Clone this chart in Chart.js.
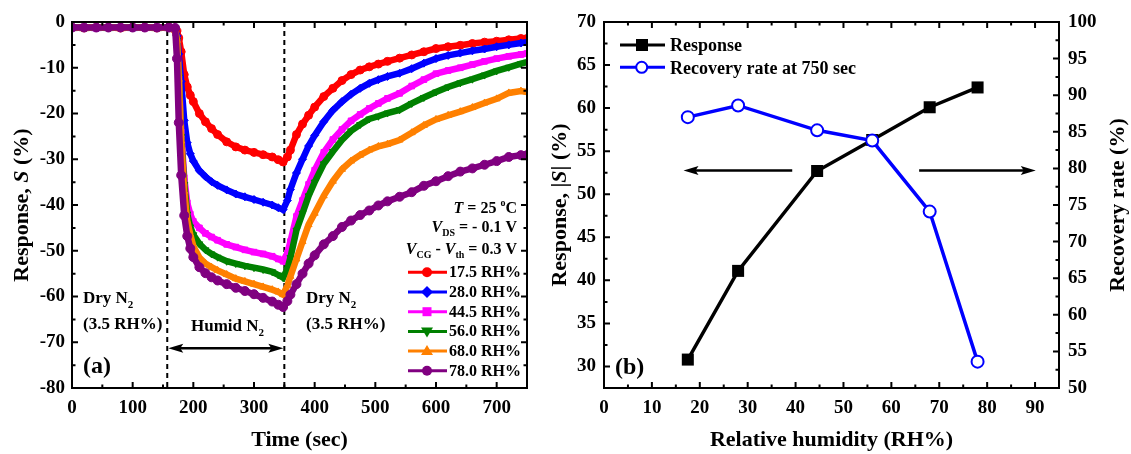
<!DOCTYPE html>
<html>
<head>
<meta charset="utf-8">
<script src="https://cdn.jsdelivr.net/npm/chart.js@4.4.0/dist/chart.umd.min.js"></script>
<style>
  html, body { margin: 0; padding: 0; background: #fff; }
  #wrap { position: relative; width: 1131px; height: 454px; overflow: hidden; }
  #ca { position: absolute; left: 0; top: 0; }
  #cb { position: absolute; left: 535px; top: 0; }
</style>
</head>
<body>
<div id="wrap">
  <canvas id="ca" width="560" height="454"></canvas>
  <canvas id="cb" width="596" height="454"></canvas>
</div>
<script>
// ---- panel (a): response vs time ----
const timeSec = [0, 20, 40, 60, 80, 100, 120, 140, 160, 170,
  173, 176, 180, 185, 190, 195, 200, 210, 220, 230, 240,
  255, 270, 285, 300, 315, 330, 340, 348, 355, 360,
  370, 380, 390, 400, 415, 430, 445, 460, 475, 490, 505, 520,
  540, 560, 580, 600, 620, 640, 660, 680, 700, 720, 740, 750];

const rh175 = [-1.2, -1.3, -1.2, -1.2, -1.3, -1.2, -1.2, -1.3, -1.2, -1.4,
  -2.0, -3.5, -6.5, -11.5, -14.2, -16.0, -17.4, -20.0, -21.8, -23.3, -24.6,
  -26.2, -27.3, -28.0, -28.5, -29.0, -29.5, -30.1, -30.6, -29.5, -28.0,
  -24.6, -22.3, -20.4, -18.6, -16.3, -14.5, -12.8, -11.5, -10.5, -9.8, -9.2, -8.6,
  -7.9, -7.2, -6.5, -5.8, -5.4, -5.1, -4.7, -4.4, -4.2, -3.9, -3.6, -3.6];

const rh280 = [-1.3, -1.2, -1.3, -1.2, -1.2, -1.3, -1.2, -1.2, -1.3, -1.6,
  -3.0, -7.0, -13.0, -21.5, -26.4, -28.8, -30.4, -32.5, -33.8, -34.9, -35.7,
  -36.7, -37.6, -38.2, -38.8, -39.4, -40.0, -40.6, -41.0, -39.0, -36.6,
  -33.0, -30.0, -27.1, -24.8, -21.8, -19.3, -17.4, -15.8, -14.5, -13.4, -12.6, -11.9,
  -11.2, -10.2, -9.0, -8.0, -7.3, -6.8, -6.3, -5.9, -5.4, -5.0, -4.6, -4.4];

const rh445 = [-1.2, -1.2, -1.3, -1.2, -1.2, -1.2, -1.3, -1.2, -1.2, -1.8,
  -4.0, -11.0, -24.0, -34.0, -39.5, -42.0, -43.6, -45.0, -46.2, -47.0, -47.7,
  -48.6, -49.2, -49.8, -50.3, -50.7, -51.2, -51.8, -52.3, -50.5, -48.0,
  -42.5, -39.0, -35.5, -32.4, -28.5, -25.7, -23.5, -21.6, -20.2, -18.9, -17.8, -16.7,
  -15.6, -14.0, -12.6, -11.3, -10.6, -10.0, -9.3, -8.6, -8.0, -7.5, -7.1, -6.9];

const rh560 = [-1.2, -1.3, -1.2, -1.3, -1.2, -1.2, -1.2, -1.3, -1.2, -1.8,
  -4.0, -12.0, -25.0, -35.5, -42.0, -44.8, -46.5, -48.5, -49.8, -50.7, -51.4,
  -52.3, -52.8, -53.3, -53.7, -54.1, -54.6, -55.3, -55.9, -54.0, -51.5,
  -45.5, -41.8, -38.0, -35.0, -31.0, -28.3, -25.8, -23.8, -22.4, -21.2, -20.6, -19.9,
  -19.2, -17.8, -16.5, -15.3, -14.2, -13.3, -12.5, -11.6, -10.7, -9.9, -9.1, -8.8];

const rh680 = [-1.3, -1.2, -1.2, -1.2, -1.3, -1.2, -1.2, -1.2, -1.3, -1.8,
  -4.0, -12.5, -26.0, -37.0, -43.5, -46.5, -49.0, -51.5, -52.8, -53.6, -54.3,
  -55.2, -56.1, -56.7, -57.3, -57.9, -58.5, -59.0, -59.6, -57.6, -55.6,
  -51.8, -48.0, -44.3, -41.8, -38.0, -34.8, -32.2, -30.4, -29.1, -28.0, -27.2, -26.7,
  -25.8, -24.2, -22.6, -21.3, -20.4, -19.6, -18.7, -17.7, -16.8, -15.5, -15.1, -15.3];

const rh780 = [-1.2, -1.2, -1.2, -1.2, -1.2, -1.2, -1.2, -1.2, -1.2, -1.3,
  -8.0, -22.0, -33.5, -42.3, -46.8, -49.5, -51.4, -53.6, -54.9, -55.8, -56.5,
  -57.3, -58.1, -58.8, -59.5, -60.3, -61.1, -61.8, -62.3, -61.0, -59.6,
  -57.3, -55.0, -52.8, -51.0, -48.6, -46.8, -44.8, -43.4, -42.2, -41.2, -40.1, -39.2,
  -38.2, -37.2, -35.8, -34.8, -33.7, -32.7, -32.0, -31.2, -30.4, -29.5, -29.1, -29.1];

const rhLabels = ['17.5 RH%', '28.0 RH%', '44.5 RH%', '56.0 RH%', '68.0 RH%', '78.0 RH%'];
const timeTicks = [0, 100, 200, 300, 400, 500, 600, 700];
const respTicks = [0, -10, -20, -30, -40, -50, -60, -70, -80];

// ---- panel (b): response and recovery vs humidity ----
const humidity = [17.5, 28.0, 44.5, 56.0, 68.0, 78.0];
const responseAbs = [30.8, 41.1, 52.7, 56.3, 60.1, 62.4];
const recoveryRate = [87.0, 88.6, 85.2, 83.8, 74.1, 53.6];
const humTicks = [0, 10, 20, 30, 40, 50, 60, 70, 80, 90];
const absTicks = [30, 35, 40, 45, 50, 55, 60, 65, 70];
const recTicks = [50, 55, 60, 65, 70, 75, 80, 85, 90, 95, 100];

const SERIF = "'Liberation Serif', 'Times New Roman', serif";
const tickFont = { family: SERIF, size: 19, weight: 'bold' };
const colors = ['#ff0000', '#0000ff', '#ff00ff', '#008000', '#ff8000', '#800080'];
const styles = ['circle', 'rectRot', 'rect', 'triangle', 'triangle', 'circle'];
const rots = [0, 0, 0, 180, 0, 0];

const mids = arr => arr.slice(1).map((v, i) => (v + arr[i]) / 2);

function rich(ctx, x, y, parts, size, align) {
  const font = (st, s) => (st === 'i' ? 'italic ' : '') + 'bold ' + s + 'px ' + SERIF;
  const segs = parts.map(([t, st]) => {
    const s = (st === 'sub' || st === 'sup') ? Math.round(size * 0.62) : size;
    ctx.font = font(st, s);
    return { t, st, s, w: ctx.measureText(t).width };
  });
  const total = segs.reduce((acc, g) => acc + g.w, 0);
  let cx = align === 'right' ? x - total : align === 'center' ? x - total / 2 : x;
  ctx.textAlign = 'left';
  ctx.textBaseline = 'alphabetic';
  segs.forEach(g => {
    ctx.font = font(g.st, g.s);
    const dy = g.st === 'sub' ? size * 0.28 : g.st === 'sup' ? -size * 0.42 : 0;
    ctx.fillText(g.t, cx, y + dy);
    cx += g.w;
  });
}

function vtitle(ctx, x, y, parts, size) {
  ctx.save();
  ctx.translate(x, y);
  ctx.rotate(-Math.PI / 2);
  rich(ctx, 0, 0, parts, size, 'center');
  ctx.restore();
}

function ticksOn(ctx, scale, a, side, vals, len) {
  ctx.beginPath();
  vals.forEach(v => {
    const p = scale.getPixelForValue(v);
    if (side === 'bottom') { ctx.moveTo(p, a.bottom); ctx.lineTo(p, a.bottom - len); }
    if (side === 'top') { ctx.moveTo(p, a.top); ctx.lineTo(p, a.top + len); }
    if (side === 'left') { ctx.moveTo(a.left, p); ctx.lineTo(a.left + len, p); }
    if (side === 'right') { ctx.moveTo(a.right, p); ctx.lineTo(a.right - len, p); }
  });
  ctx.stroke();
}

function head(ctx, x, y, dir, len, half) {
  ctx.beginPath();
  ctx.moveTo(x, y);
  ctx.lineTo(x - dir * len, y - half);
  ctx.lineTo(x - dir * len * 0.8, y);
  ctx.lineTo(x - dir * len, y + half);
  ctx.closePath();
  ctx.fill();
}

function marker(ctx, i, x, y) {
  ctx.beginPath();
  const s = styles[i];
  if (s === 'circle') ctx.arc(x, y, 5, 0, Math.PI * 2);
  else if (s === 'rect') ctx.rect(x - 4.5, y - 4.5, 9, 9);
  else if (s === 'rectRot') { ctx.moveTo(x, y - 6); ctx.lineTo(x + 6, y); ctx.lineTo(x, y + 6); ctx.lineTo(x - 6, y); ctx.closePath(); }
  else if (rots[i] === 180) { ctx.moveTo(x, y + 6); ctx.lineTo(x + 6, y - 4); ctx.lineTo(x - 6, y - 4); ctx.closePath(); }
  else { ctx.moveTo(x, y - 6); ctx.lineTo(x + 6, y + 4); ctx.lineTo(x - 6, y + 4); ctx.closePath(); }
  ctx.fillStyle = colors[i];
  ctx.fill();
}

function scaleBase(min, max, list, padding) {
  return {
    type: 'linear', min, max,
    afterBuildTicks: s => { s.ticks = list.map(v => ({ value: v })); },
    grid: { display: false, drawTicks: false },
    border: { display: false },
    ticks: { color: '#000', font: tickFont, padding, autoSkip: false, maxRotation: 0, callback: v => String(v) }
  };
}

// ---------- chart (a) ----------
const seriesA = [rh175, rh280, rh445, rh560, rh680, rh780];

const annotA = {
  id: 'annotA',
  beforeDatasetsDraw(chart) {
    const { ctx, chartArea: a, scales: { x } } = chart;
    ctx.save();
    ctx.strokeStyle = '#000';
    ctx.lineWidth = 2;
    ctx.setLineDash([5, 4]);
    [157, 350].forEach(t => {
      const px = x.getPixelForValue(t);
      ctx.beginPath(); ctx.moveTo(px, a.top); ctx.lineTo(px, a.bottom); ctx.stroke();
    });
    ctx.restore();
  },
  afterDraw(chart) {
    const { ctx, chartArea: a, scales: { x, y } } = chart;
    ctx.save();
    ctx.strokeStyle = '#000';
    ctx.fillStyle = '#000';
    ctx.lineWidth = 2;
    ctx.strokeRect(a.left, a.top, a.right - a.left, a.bottom - a.top);
    ['bottom', 'top'].forEach(sd => { ticksOn(ctx, x, a, sd, timeTicks, 6); ticksOn(ctx, x, a, sd, mids(timeTicks), 3.5); });
    ['left', 'right'].forEach(sd => { ticksOn(ctx, y, a, sd, respTicks, 6); ticksOn(ctx, y, a, sd, mids(respTicks), 3.5); });

    vtitle(ctx, 28, 205, [['Response, ', ''], ['S', 'i'], [' (%)', '']], 22);

    rich(ctx, 83, 303, [['Dry N', ''], ['2', 'sub']], 17, 'left');
    rich(ctx, 83, 329, [['(3.5 RH%)', '']], 17, 'left');
    rich(ctx, 191, 331, [['Humid N', ''], ['2', 'sub']], 17, 'left');
    rich(ctx, 306, 303, [['Dry N', ''], ['2', 'sub']], 17, 'left');
    rich(ctx, 306, 329, [['(3.5 RH%)', '']], 17, 'left');
    rich(ctx, 83, 373, [['(a)', '']], 24, 'left');

    // humid exposure arrow
    const ay = y.getPixelForValue(-71.3);
    const x1 = x.getPixelForValue(157), x2 = x.getPixelForValue(350);
    ctx.lineWidth = 2.5;
    ctx.beginPath(); ctx.moveTo(x1 + 8, ay); ctx.lineTo(x2 - 8, ay); ctx.stroke();
    head(ctx, x1 + 1, ay, -1, 15, 4.5);
    head(ctx, x2 - 1, ay, 1, 15, 4.5);

    // conditions
    rich(ctx, 517, 213, [['T', 'i'], [' = 25 ', ''], ['o', 'sup'], ['C', '']], 16, 'right');
    rich(ctx, 517, 232, [['V', 'i'], ['DS', 'sub'], [' = - 0.1 V', '']], 16, 'right');
    rich(ctx, 517, 254, [['V', 'i'], ['CG', 'sub'], [' - ', ''], ['V', 'i'], ['th', 'sub'], [' = 0.3 V', '']], 16, 'right');

    // legend
    rhLabels.forEach((lab, i) => {
      const base = 277.3 + i * 19.7;
      const cy = base - 5;
      ctx.strokeStyle = colors[i];
      ctx.lineWidth = 3;
      ctx.beginPath(); ctx.moveTo(408, cy); ctx.lineTo(447, cy); ctx.stroke();
      marker(ctx, i, 427, cy);
      ctx.fillStyle = '#000';
      rich(ctx, 449, base, [[lab, '']], 16, 'left');
    });
    ctx.restore();
  }
};

new Chart(document.getElementById('ca'), {
  type: 'line',
  data: {
    labels: timeSec,
    datasets: seriesA.map((vals, i) => ({
      label: rhLabels[i],
      data: timeSec.map((t, k) => ({ x: t, y: vals[k] })),
      borderColor: colors[i],
      backgroundColor: colors[i],
      borderWidth: 6.5,
      pointStyle: styles[i],
      rotation: rots[i],
      pointRadius: i === 5 ? 4.5 : 4,
      pointBorderWidth: 1,
      tension: 0,
      order: 5 - i
    }))
  },
  options: {
    responsive: false,
    animation: false,
    events: [],
    layout: { padding: { top: 22, right: 33, left: 0, bottom: 0 } },
    plugins: { legend: { display: false }, tooltip: { enabled: false } },
    scales: {
      x: Object.assign(scaleBase(0, 750, timeTicks, 9), {
        afterFit: s => { s.height = 66; },
        title: { display: true, text: 'Time (sec)', color: '#000', font: { family: SERIF, size: 22, weight: 'bold' }, padding: { top: 0, bottom: 0 } }
      }),
      y: Object.assign(scaleBase(-80, 0, respTicks, 7), {
        afterFit: s => { s.width = 72; }
      })
    }
  },
  plugins: [annotA]
});

// ---------- chart (b) ----------
const annotB = {
  id: 'annotB',
  afterDraw(chart) {
    const { ctx, chartArea: a, scales: { x, y, y1 } } = chart;
    ctx.save();
    ctx.strokeStyle = '#000';
    ctx.fillStyle = '#000';
    ctx.lineWidth = 2;
    ctx.strokeRect(a.left, a.top, a.right - a.left, a.bottom - a.top);
    ['bottom', 'top'].forEach(sd => { ticksOn(ctx, x, a, sd, humTicks, 6); ticksOn(ctx, x, a, sd, mids(humTicks), 3.5); });
    ticksOn(ctx, y, a, 'left', absTicks, 6); ticksOn(ctx, y, a, 'left', mids(absTicks), 3.5);
    ticksOn(ctx, y1, a, 'right', recTicks, 6); ticksOn(ctx, y1, a, 'right', mids(recTicks), 3.5);

    vtitle(ctx, 31, 205, [['Response, |', ''], ['S', 'i'], ['| (%)', '']], 22);
    vtitle(ctx, 589, 205, [['Recovery rate (%)', '']], 22);
    rich(ctx, 80, 374, [['(b)', '']], 24, 'left');

    // legend
    ctx.lineWidth = 3;
    ctx.beginPath(); ctx.moveTo(85, 45); ctx.lineTo(130, 45); ctx.stroke();
    ctx.fillRect(101, 39, 12, 12);
    ctx.strokeStyle = '#0000ff';
    ctx.beginPath(); ctx.moveTo(85, 67.3); ctx.lineTo(130, 67.3); ctx.stroke();
    ctx.fillStyle = '#fff';
    ctx.lineWidth = 2;
    ctx.beginPath(); ctx.arc(106.7, 67.3, 5.5, 0, Math.PI * 2); ctx.fill(); ctx.stroke();
    ctx.fillStyle = '#000';
    rich(ctx, 135, 51, [['Response', '']], 18, 'left');
    rich(ctx, 135, 73.5, [['Recovery rate at 750 sec', '']], 18, 'left');

    // axis arrows
    ctx.strokeStyle = '#000';
    ctx.lineWidth = 2.5;
    const ay = y.getPixelForValue(52.75);
    const l1 = x.getPixelForValue(39.3), l2 = x.getPixelForValue(16.6);
    ctx.beginPath(); ctx.moveTo(l1, ay); ctx.lineTo(l2 + 8, ay); ctx.stroke();
    head(ctx, l2, ay, -1, 15, 4.5);
    const r1 = x.getPixelForValue(65.8), r2 = x.getPixelForValue(90.15);
    ctx.beginPath(); ctx.moveTo(r1, ay); ctx.lineTo(r2 - 8, ay); ctx.stroke();
    head(ctx, r2, ay, 1, 15, 4.5);
    ctx.restore();
  }
};

new Chart(document.getElementById('cb'), {
  type: 'line',
  data: {
    datasets: [
      {
        label: 'Recovery rate at 750 sec',
        data: humidity.map((h, i) => ({ x: h, y: recoveryRate[i] })),
        yAxisID: 'y1',
        borderColor: '#0000ff',
        backgroundColor: '#ffffff',
        borderWidth: 3.5,
        pointStyle: 'circle',
        pointRadius: 6,
        pointBorderWidth: 2,
        tension: 0,
        order: 0
      },
      {
        label: 'Response',
        data: humidity.map((h, i) => ({ x: h, y: responseAbs[i] })),
        yAxisID: 'y',
        borderColor: '#000000',
        backgroundColor: '#000000',
        borderWidth: 3.5,
        pointStyle: 'rect',
        pointRadius: 8.5,
        pointBorderWidth: 0,
        tension: 0,
        order: 1
      }
    ]
  },
  options: {
    responsive: false,
    animation: false,
    events: [],
    layout: { padding: { top: 22, right: 0, left: 0, bottom: 0 } },
    plugins: { legend: { display: false }, tooltip: { enabled: false } },
    scales: {
      x: Object.assign(scaleBase(0, 95, humTicks, 9), {
        afterFit: s => { s.height = 66; },
        title: { display: true, text: 'Relative humidity (RH%)', color: '#000', font: { family: SERIF, size: 22, weight: 'bold' }, padding: { top: 0, bottom: 0 } }
      }),
      y: Object.assign(scaleBase(27.5, 70, absTicks, 8), {
        position: 'left',
        afterFit: s => { s.width = 69; }
      }),
      y1: Object.assign(scaleBase(50, 100, recTicks, 9), {
        position: 'right',
        afterFit: s => { s.width = 72; }
      })
    }
  },
  plugins: [annotB]
});
</script>
</body>
</html>
